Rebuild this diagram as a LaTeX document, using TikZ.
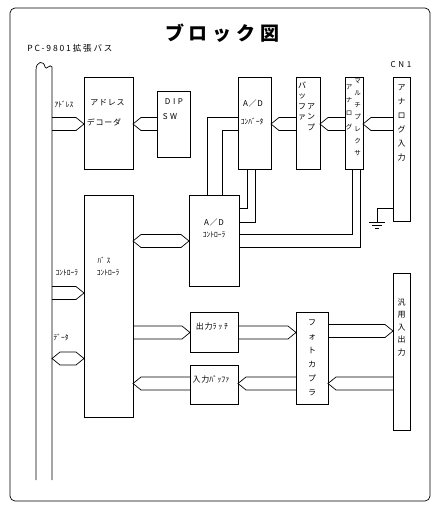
\documentclass[tikz,border=0pt]{standalone}
\usepackage{fontspec}
\usetikzlibrary{calc}
\newfontfamily\jp{Noto Sans CJK JP}
\newfontfamily\jpsp[LetterSpace=10]{Noto Sans CJK JP}
\newfontfamily\jpwide[LetterSpace=22]{Noto Sans CJK JP}
\newfontfamily\jptitle[LetterSpace=25]{Noto Sans CJK JP}
\newcommand{\fatR}[3]{\draw let \p1=(#1 |- 0,#3), \p2=(#2 |- 0,#3) in
  (\x1,\y1+6.5pt) -- (\x2-8pt,\y1+6.5pt) -- (\x2,\y1) -- (\x2-8pt,\y1-6.5pt) -- (\x1,\y1-6.5pt);}
\newcommand{\fatL}[3]{\draw let \p1=(#1 |- 0,#3), \p2=(#2 |- 0,#3) in
  (\x1,\y1+6.5pt) -- (\x2+8pt,\y1+6.5pt) -- (\x2,\y1) -- (\x2+8pt,\y1-6.5pt) -- (\x1,\y1-6.5pt);}
\newcommand{\fatB}[3]{\draw let \p1=(#1 |- 0,#3), \p2=(#2 |- 0,#3) in
  (\x1+8pt,\y1+6.5pt) -- (\x2-8pt,\y1+6.5pt) -- (\x2,\y1) -- (\x2-8pt,\y1-6.5pt)
  -- (\x1+8pt,\y1-6.5pt) -- (\x1,\y1) -- cycle;}
\begin{document}
\begin{tikzpicture}[x=1pt,y=-1pt,line width=0.7pt,
    blk/.style={draw,inner sep=0pt,outer sep=0pt},
    lbl/.style={inner sep=0pt,font=\jpsp\fontsize{8}{9}\selectfont},
    hw/.style={inner sep=0pt,font=\jp\fontsize{7.5}{9}\selectfont},
    vtext/.style={inner sep=0pt,align=center,font=\jp\fontsize{8}{#1}\selectfont},
    vsmall/.style={inner sep=0pt,align=center,font=\jp\fontsize{6.5}{#1}\selectfont}]
    \useasboundingbox (0,0) rectangle (443,515);
    \draw[rounded corners=5pt] (10,8) rectangle (430,501);
    \node[font=\jptitle\bfseries\fontsize{19}{22}\selectfont] (title) at (222,33) {ブロック図};
    \node[inner sep=0pt,font=\jpwide\fontsize{8.5}{9}\selectfont,anchor=west] (buslbl) at (27,48) {PC-9801拡張バス};
    \node[lbl] (cn) at (401,65) {C N 1};

    \coordinate (busL) at (36,480);
    \coordinate (busR) at (52,480);
    \draw (busL) -- (36,70) .. controls (36,61) and (44,60) .. (45,67)
      .. controls (46,71) and (50,63) .. (52,67) -- (busR);

    \node[blk,minimum width=49,minimum height=92] (dec) at (108.5,123) {};
    \node[blk,minimum width=33,minimum height=66] (dip) at (173.5,124) {};
    \node[blk,minimum width=33,minimum height=92] (conv) at (254.5,123) {};
    \node[blk,minimum width=24,minimum height=92] (amp) at (308,123) {};
    \node[blk,minimum width=18,minimum height=92] (mux) at (354,123) {};
    \node[blk,minimum width=17,minimum height=144] (ain) at (401.5,149) {};
    \node[blk,minimum width=50,minimum height=91] (ctl) at (214,240.5) {};
    \node[blk,minimum width=49,minimum height=222] (bctl) at (108.5,306) {};
    \node[blk,minimum width=48,minimum height=40] (olat) at (214,332) {};
    \node[blk,minimum width=48,minimum height=39] (ibuf) at (214,384.5) {};
    \node[blk,minimum width=32,minimum height=92] (pc) at (312,358) {};
    \node[blk,minimum width=17,minimum height=157] (gio) at (401.5,351.5) {};

    \node[lbl] (dec1) at (107.5,103) {アドレス};
    \node[lbl] (dec2) at (104,122) {デコーダ};
    \node[lbl] (dip1) at (174,102) {D I P};
    \node[lbl] (dip2) at (170,117) {S W};
    \node[lbl] (conv1) at (253,103) {A／D};
    \node[hw] (conv2) at (252,122) {ｺﾝﾊﾞｰﾀ};
    \node[lbl] (ctl1) at (214,222) {A／D};
    \node[hw] (ctl2) at (214,235) {ｺﾝﾄﾛｰﾗ};
    \node[hw] (bctl1) at (104,260) {ﾊﾞ ｽ};
    \node[hw] (bctl2) at (108,273) {ｺﾝﾄﾛｰﾗ};
    \node[lbl] (olat1) at (212,326) {出力\jp ﾗ ｯ ﾁ};
    \node[lbl] (ibuf1) at (211,379) {入力\jp ﾊﾞｯﾌｧ};
    \node[hw] (adrlbl) at (64,104) {ｱﾄﾞﾚｽ};
    \node[hw] (ctllbl) at (67,273) {ｺﾝﾄﾛｰﾗ};
    \node[hw] (datlbl) at (61,338) {ﾃﾞｰﾀ};

    \node[vtext=10.5] (amp1) at (302,101) {バ\\ッ\\フ\\ァ};
    \node[vtext=10.5] (amp2) at (311,117) {ア\\ン\\プ};
    \node[vsmall=13.3] (mux1) at (349,107) {ア\\ナ\\ロ\\グ};
    \node[vsmall=12] (mux2) at (357.5,117) {マ\\ル\\チ\\プ\\レ\\ク\\サ};
    \node[vtext=14] (ain1) at (401.5,123) {ア\\ナ\\ロ\\グ\\入\\力};
    \node[vtext=14] (pc1) at (312,357.5) {フ\\ォ\\ト\\カ\\プ\\ラ};
    \node[vtext=12.5] (gio1) at (401.5,327) {汎\\用\\入\\出\\力};

    \fatR{busR}{dec.west}{124}
    \fatL{dip.west}{dec.east}{124}
    \fatL{ain.west}{mux.east}{124}
    \fatL{mux.west}{amp.east}{124}
    \fatL{amp.west}{conv.east}{124}
    \fatR{busR}{bctl.west}{293}
    \fatB{busR}{bctl.west}{358.5}
    \fatB{bctl.east}{ctl.west}{241}
    \fatR{bctl.east}{olat.west}{332.5}
    \fatR{olat.east}{pc.west}{332.5}
    \fatR{pc.east}{gio.west}{331}
    \fatL{gio.west}{pc.east}{383.5}
    \fatL{pc.west}{ibuf.east}{383.5}
    \fatL{ibuf.west}{bctl.east}{383.5}

    \draw (conv.west |- 0,117) -| (ctl.north -| 207,0);
    \draw (conv.west |- 0,130) -| (ctl.north -| 222,0);
    \draw (conv.south -| 247,0) |- (ctl.east |- 0,208);
    \draw (conv.south -| 255,0) |- (ctl.east |- 0,222);
    \draw (mux.south -| 352,0) |- (ctl.east |- 0,234);
    \draw (mux.south -| 360,0) |- (ctl.east |- 0,247);

    \coordinate (gnd) at (377,222);
    \draw (ain.west |- 0,208) -| (gnd);
    \draw (369,222) -- (385,222) (372,225) -- (382,225) (375,228) -- (379,228);
\end{tikzpicture}
\end{document}
